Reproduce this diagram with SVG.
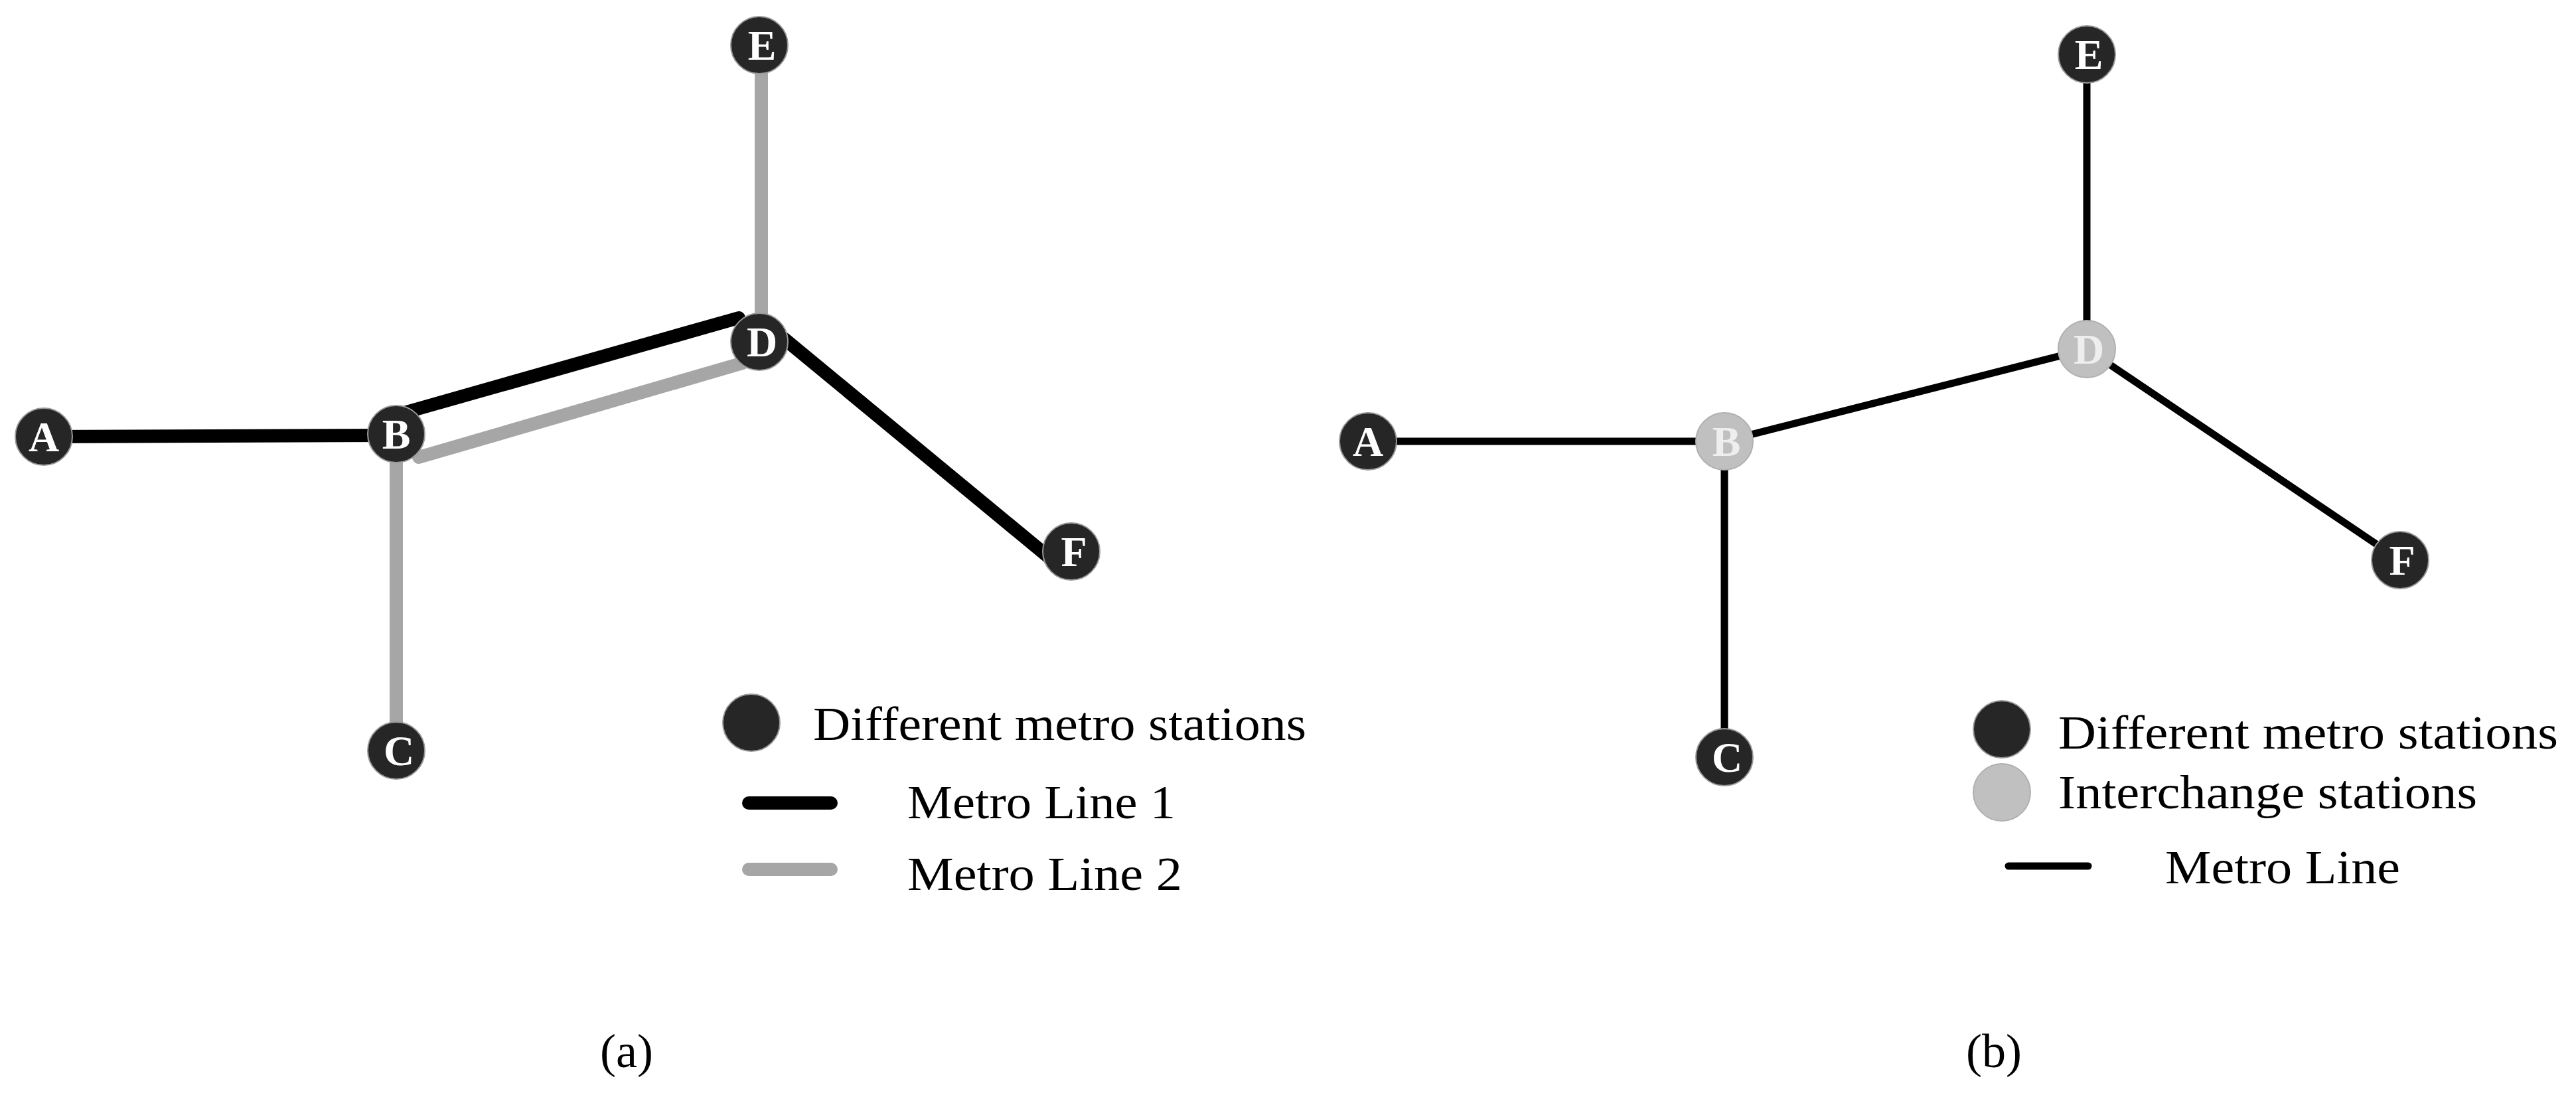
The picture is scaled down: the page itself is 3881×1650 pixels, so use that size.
<svg xmlns="http://www.w3.org/2000/svg" width="3881" height="1650" viewBox="0 0 3881 1650">
<style>
.t{font-family:"Liberation Serif","Times New Roman",serif;font-size:72px;fill:#000}
.lbl{font-family:"Liberation Serif","Times New Roman",serif;font-size:64px;font-weight:bold;fill:#fff;text-anchor:middle}
.dk{fill:#262626;stroke:#9a9a9a;stroke-width:2}
.gy{fill:#c0c0c0;stroke:#b0b0b0;stroke-width:2}
.l1{stroke:#000;stroke-width:20;stroke-linecap:round;fill:none}
.l2{stroke:#a6a6a6;stroke-width:20;stroke-linecap:round;fill:none}
.lb{stroke:#000;stroke-width:11;stroke-linecap:round;fill:none}
</style>
<rect width="3881" height="1650" fill="#fff"/>
<g id="connectors">
<line class="l1" x1="66" y1="658" x2="597" y2="656"/>
<line class="l1" x1="612" y1="621" x2="1113" y2="479"/>
<line class="l2" x1="631" y1="689" x2="1119" y2="547"/>
<line class="l2" x1="597" y1="694" x2="597" y2="1094"/>
<line class="l2" x1="1147" y1="105" x2="1147" y2="473"/>
<line class="l1" x1="1181" y1="510" x2="1583" y2="842"/>
<line class="lb" x1="2061" y1="665" x2="2598" y2="665"/>
<line class="lb" x1="2598" y1="665" x2="3144" y2="526"/>
<line class="lb" x1="2598" y1="665" x2="2598" y2="1141"/>
<line class="lb" x1="3144" y1="82" x2="3144" y2="526"/>
<line class="lb" x1="3144" y1="526" x2="3616" y2="844"/>
</g>
<g id="a-A"><circle class="dk" cx="66" cy="658" r="43"/><text class="lbl" x="66" y="680">A</text></g>
<g id="a-B"><circle class="dk" cx="597" cy="654" r="43"/><text class="lbl" x="597" y="676">B</text></g>
<g id="a-C"><circle class="dk" cx="597" cy="1131" r="43"/><text class="lbl" x="601" y="1153">C</text></g>
<g id="a-D"><circle class="dk" cx="1144" cy="515" r="43"/><text class="lbl" x="1148" y="537">D</text></g>
<g id="a-E"><circle class="dk" cx="1144" cy="68" r="43"/><text class="lbl" x="1148" y="90">E</text></g>
<g id="a-F"><circle class="dk" cx="1614" cy="831" r="43"/><text class="lbl" x="1618" y="853">F</text></g>
<g id="a-legend">
<circle class="dk" cx="1132" cy="1089" r="43"/>
<text class="t" x="1225" y="1115" textLength="743" lengthAdjust="spacingAndGlyphs">Different metro stations</text>
<line class="l1" x1="1128" y1="1210" x2="1252" y2="1210"/>
<text class="t" x="1367" y="1233" textLength="404" lengthAdjust="spacingAndGlyphs">Metro Line 1</text>
<line class="l2" x1="1128" y1="1310" x2="1252" y2="1310"/>
<text class="t" x="1367" y="1341" textLength="414" lengthAdjust="spacingAndGlyphs">Metro Line 2</text>
</g>
<text class="t" x="944" y="1608" text-anchor="middle">(a)</text>
<g id="b-A"><circle class="dk" cx="2061" cy="665" r="43"/><text class="lbl" x="2061" y="687">A</text></g>
<g id="b-B"><circle class="gy" cx="2598" cy="665" r="43"/><text class="lbl" x="2601" y="687" style="fill:#eee">B</text></g>
<g id="b-C"><circle class="dk" cx="2598" cy="1141" r="43"/><text class="lbl" x="2602" y="1163">C</text></g>
<g id="b-D"><circle class="gy" cx="3144" cy="526" r="43"/><text class="lbl" x="3147" y="548" style="fill:#eee">D</text></g>
<g id="b-E"><circle class="dk" cx="3144" cy="82" r="43"/><text class="lbl" x="3147" y="104">E</text></g>
<g id="b-F"><circle class="dk" cx="3616" cy="844" r="43"/><text class="lbl" x="3619" y="866">F</text></g>
<g id="b-legend">
<circle class="dk" cx="3016" cy="1099" r="43"/>
<text class="t" x="3101" y="1128" textLength="753" lengthAdjust="spacingAndGlyphs">Different metro stations</text>
<circle class="gy" cx="3016" cy="1194" r="43"/>
<text class="t" x="3101" y="1218" textLength="631" lengthAdjust="spacingAndGlyphs">Interchange stations</text>
<line class="lb" x1="3026" y1="1305" x2="3146" y2="1305"/>
<text class="t" x="3262" y="1331" textLength="354" lengthAdjust="spacingAndGlyphs">Metro Line</text>
</g>
<text class="t" x="3004" y="1608" text-anchor="middle">(b)</text>
</svg>
